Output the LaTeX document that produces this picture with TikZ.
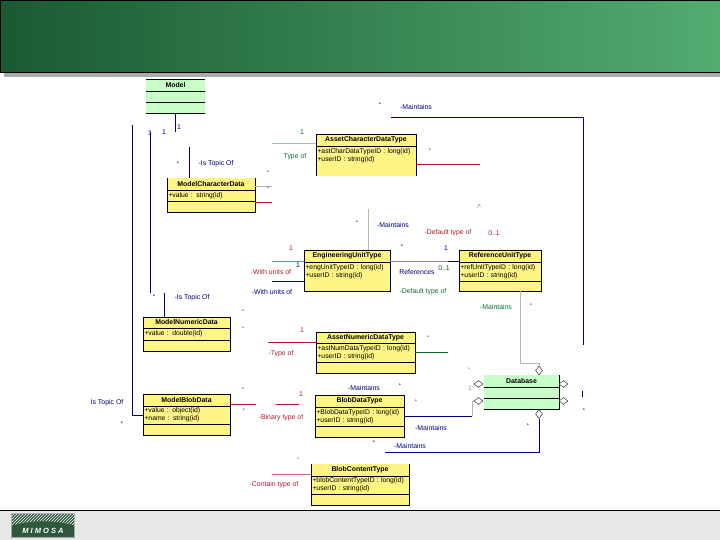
\documentclass[tikz,border=0pt]{standalone}
\usepackage{fontspec}
\setmainfont{Liberation Sans}
\usetikzlibrary{positioning,shapes.geometric,patterns}
\definecolor{umlyellow}{HTML}{FFF585}
\definecolor{umlgreen}{HTML}{C8FFC8}
\definecolor{linknavy}{HTML}{000080}
\definecolor{linkred}{HTML}{B0182C}
\definecolor{linkgreen}{HTML}{0E6B2E}
\definecolor{linkgray}{HTML}{A9BDB0}
\definecolor{hdrdark}{HTML}{1A5A32}
\definecolor{hdrmid}{HTML}{469A60}
\definecolor{hdrlight}{HTML}{52AC70}
\tikzset{
  node distance=0pt,
  % klasser
  ctitle/.style={fill=#1,outer sep=0pt,inner xsep=1.5pt,inner ysep=0pt,align=center,
                 font=\fontsize{6.9}{7.5}\selectfont\bfseries},
  cbody/.style={fill=#1,outer sep=0pt,inner xsep=1.5pt,inner ysep=0pt,align=left,
                font=\fontsize{6.8}{8.2}\selectfont},
  cline/.style={draw=black,line width=0.8pt},
  % kopplingar
  navyl/.style={draw=linknavy,line width=1pt},
  redl/.style={draw=linkred,line width=1pt},
  greenl/.style={draw=linkgreen,line width=1pt},
  grayl/.style={draw=linkgray,line width=1pt},
  pinkl/.style={draw=linkred!65,line width=1pt},
  agg/.style={diamond,draw=black!80,fill=white,line width=0.5pt,inner sep=0pt,aspect=1.3,
              minimum width=9pt,minimum height=7pt},
  aggv/.style={diamond,draw=black!80,fill=white,line width=0.5pt,inner sep=0pt,aspect=0.75,
              minimum width=7pt,minimum height=9pt},
  lb/.style={font=\fontsize{6.9}{7.5}\selectfont,inner sep=0pt},
  mult/.style={font=\fontsize{5.5}{6}\selectfont,inner sep=0pt},
}
\begin{document}
\begin{tikzpicture}[x=1pt,y=-1pt]
  \useasboundingbox (0,0) rectangle (720,540);
  % ram
  \fill[black!33] (4,70) rectangle (720,77);
  \node[draw=black,line width=0.8pt,left color=hdrdark,middle color=hdrmid,right color=hdrlight,
        outer sep=0pt,inner sep=0pt,minimum width=720pt,minimum height=72pt,anchor=north west] (header) at (0,0.5) {};
  \node[fill=black!9,outer sep=0pt,inner sep=0pt,minimum width=720pt,minimum height=30pt,anchor=north west] (footer) at (0,510) {};
  \draw[black,line width=0.8pt] (footer.north west) -- (footer.north east);
  \node[fill=linkgreen!55!black!85,draw=black!35,line width=0.6pt,outer sep=0pt,minimum width=63pt,minimum height=24pt,
        anchor=north west,inner sep=0pt] (logo) at (11.5,513.5) {};
  \fill[pattern=north east lines,pattern color=white!75] (logo.north west) -- (logo.north east) -- (logo.east)
    .. controls (62,522) and (40,518) .. (logo.west) -- cycle;
  \node[text=white,font=\fontsize{7.5}{8}\selectfont\bfseries\itshape,inner sep=0pt] (logotext) at (43,531) {M I M O S A};
  % Model
  \node[ctitle=umlgreen,text width=56pt,minimum height=12pt,anchor=north west] (modelT) at (146,79) {Model};
  \node[cbody=umlgreen,text width=56pt,minimum height=11pt,below=of modelT] (modelA) {};
  \node[cbody=umlgreen,text width=56pt,minimum height=11pt,below=of modelA] (modelO) {};
  % ModelCharacterData
  \node[ctitle=umlyellow,text width=85pt,minimum height=12pt,anchor=north west] (mcdT) at (167,178) {ModelCharacterData};
  \node[cbody=umlyellow,text width=85pt,minimum height=11pt,below=of mcdT] (mcdA) {+value : string(id)};
  \node[cbody=umlyellow,text width=85pt,minimum height=11pt,below=of mcdA] (mcdO) {};
  % AssetCharacterDataType
  \node[ctitle=umlyellow,text width=97pt,minimum height=12pt,anchor=north west] (acdT) at (316,134) {AssetCharacterDataType};
  \node[cbody=umlyellow,text width=97pt,minimum height=19pt,below=of acdT] (acdA) {+astCharDataTypeID : long(id)\\+userID : string(id)};
  \node[cbody=umlyellow,text width=97pt,minimum height=11pt,below=of acdA] (acdO) {};
  % EngineeringUnitType
  \node[ctitle=umlyellow,text width=83pt,minimum height=12pt,anchor=north west] (eutT) at (304,250) {EngineeringUnitType};
  \node[cbody=umlyellow,text width=83pt,minimum height=20pt,below=of eutT] (eutA) {+engUnitTypeID : long(id)\\+userID : string(id)};
  \node[cbody=umlyellow,text width=83pt,minimum height=9pt,below=of eutA] (eutO) {};
  % ReferenceUnitType
  \node[ctitle=umlyellow,text width=79pt,minimum height=12pt,anchor=north west] (rutT) at (459,250) {ReferenceUnitType};
  \node[cbody=umlyellow,text width=79pt,minimum height=19pt,below=of rutT] (rutA) {+refUnitTypeID : long(id)\\+userID : string(id)};
  \node[cbody=umlyellow,text width=79pt,minimum height=10pt,below=of rutA] (rutO) {};
  % ModelNumericData
  \node[ctitle=umlyellow,text width=84pt,minimum height=11pt,anchor=north west] (mndT) at (143,317) {ModelNumericData};
  \node[cbody=umlyellow,text width=84pt,minimum height=12pt,below=of mndT] (mndA) {+value : double(id)};
  \node[cbody=umlyellow,text width=84pt,minimum height=11pt,below=of mndA] (mndO) {};
  % ModelBlobData
  \node[ctitle=umlyellow,text width=84pt,minimum height=12pt,anchor=north west] (mbdT) at (143,394) {ModelBlobData};
  \node[cbody=umlyellow,text width=84pt,minimum height=18pt,below=of mbdT] (mbdA) {+value : object(id)\\+name : string(id)};
  \node[cbody=umlyellow,text width=84pt,minimum height=11pt,below=of mbdA] (mbdO) {};
  % AssetNumericDataType
  \node[ctitle=umlyellow,text width=96pt,minimum height=11pt,anchor=north west] (antT) at (316,332) {AssetNumericDataType};
  \node[cbody=umlyellow,text width=96pt,minimum height=19pt,below=of antT] (antA) {+astNumDataTypeID : long(id)\\+userID : string(id)};
  \node[cbody=umlyellow,text width=96pt,minimum height=11pt,below=of antA] (antO) {};
  % BlobDataType
  \node[ctitle=umlyellow,text width=86pt,minimum height=12pt,anchor=north west] (bdtT) at (315,395) {BlobDataType};
  \node[cbody=umlyellow,text width=86pt,minimum height=19pt,below=of bdtT] (bdtA) {+BlobDataTypeID : long(id)\\+userID : string(id)};
  \node[cbody=umlyellow,text width=86pt,minimum height=11pt,below=of bdtA] (bdtO) {};
  % BlobContentType
  \node[ctitle=umlyellow,text width=95pt,minimum height=12pt,anchor=north west] (bctT) at (311,464) {BlobContentType};
  \node[cbody=umlyellow,text width=95pt,minimum height=18pt,below=of bctT] (bctA) {+blobContentTypeID : long(id)\\+userID : string(id)};
  \node[cbody=umlyellow,text width=95pt,minimum height=11pt,below=of bctA] (bctO) {};
  % Database
  \node[ctitle=umlgreen,text width=72pt,minimum height=12pt,anchor=north west] (dbT) at (484,375) {Database};
  \node[cbody=umlgreen,text width=72pt,minimum height=11pt,below=of dbT] (dbA) {};
  \node[cbody=umlgreen,text width=72pt,minimum height=11pt,below=of dbA] (dbO) {};
  % kanter
  \foreach \cl in {mcd,eut,rut,mnd,mbd,ant,bdt,bct}
    \draw[cline] (\cl T.north west) |- (\cl O.south east) -- (\cl T.north east);
  \foreach \cl in {acd}{
    \draw[cline] (\cl T.north west) -- (\cl O.south west);
    \draw[cline] (\cl T.north east) -- (\cl O.south east);
  }
  \draw[cline] (dbO.south west) -- (dbO.south east) -- (dbT.north east);
  \foreach \cl in {model,acd,eut,rut,mnd,mbd,ant,bdt}
    \draw[cline] (\cl T.north west) -- (\cl T.north east);
  \foreach \cl in {model,mcd,acd,eut,rut,mnd,mbd,ant,bdt,bct,db}
    \draw[cline] (\cl T.south west) -- (\cl T.south east);
  \foreach \cl in {model,mcd,rut,mnd,mbd,ant,bdt,bct,db}
    \draw[cline] (\cl A.south west) -- (\cl A.south east);
  \draw[cline] (modelO.south west) -- (modelO.south east);
  % romber
  \node[aggv] (dbtop) at (539,370.5) {};
  \node[aggv] (dbbot) at (539,414) {};
  \node[agg] (dbl1) at (478.5,384) {};
  \node[agg] (dbl2) at (478.5,401) {};
  \node[agg] (dbr1) at (563.5,384) {};
  \node[agg] (dbr2) at (563.5,401) {};
  % fria ändar
  \coordinate (c1) at (modelO.south |- 0,132);
  \coordinate (c2) at (189,147);
  \coordinate (c3a) at (132,125);
  \coordinate (c3b) at (143,415);
  \coordinate (c4a) at (150,132);
  \coordinate (c4b) at (150,293);
  \coordinate (c5) at (164,293);
  \coordinate (c6a) at (391,118);
  \coordinate (c6b) at (583,345);
  \coordinate (c7a) at (582,391);
  \coordinate (c7b) at (582,397);
  \coordinate (c8) at (272,144);
  \coordinate (c9) at (272,187);
  \coordinate (c10) at (272,203);
  \coordinate (c11) at (480,165);
  \coordinate (c12) at (368,209);
  \coordinate (c13) at (272,261);
  \coordinate (c14) at (272,281);
  \coordinate (c15) at (448,261);
  \coordinate (c16) at (520,363);
  \coordinate (c17) at (268,342);
  \coordinate (c18) at (448,352);
  \coordinate (c19) at (256,404);
  \coordinate (c20a) at (276,404.5);
  \coordinate (c20b) at (299,404.5);
  \coordinate (c21) at (472,416);
  \coordinate (c21b) at (472,401);
  \coordinate (c22) at (385,452);
  \coordinate (c23) at (272,474);
  % kopplingar
  \draw[navyl] (modelO.south) -- (c1);
  \draw[navyl] (c2) -- (c2 |- mcdT.north);
  \draw[navyl] (c3a) |- (c3b);
  \draw[navyl] (c4a) -- (c4b);
  \draw[navyl] (c5) -- (c5 |- mndT.north);
  \draw[navyl] (c6a) -| (c6b);
  \draw[navyl] (c7a) -- (c7b);
  \draw[grayl] (c8) -- (c8 -| acdT.west);
  \draw[grayl] (c9) -- (c9 -| mcdT.east);
  \draw[redl] (c10) -- (c10 -| mcdT.east);
  \draw[redl] (c11) -- (c11 -| acdT.east);
  \draw[grayl] (c12) -- (c12 |- eutT.north);
  \draw[pinkl] (c13) -- (c13 -| eutT.west);
  \draw[navyl] (c14) -- (c14 -| eutT.west);
  \draw[draw=linknavy!45,line width=1pt] (c15 -| eutT.east) -- (c15);
  \draw[navyl] (c15) -- (c15 -| rutT.west);
  \draw[grayl] (c16 |- rutO.south) -- (c16) -| (dbtop.north);
  \draw[redl] (c17) -- (c17 -| antT.west);
  \draw[greenl] (c18) -- (c18 -| antT.east);
  \draw[redl] (c19) -- (c19 -| mbdT.east);
  \draw[redl] (c20a) -- (c20b);
  \draw[navyl] (c21) -- (c21 -| bdtT.east);
  \draw[grayl] (c21) -- (c21b) -- (dbl2.west);
  \draw[navyl] (dbbot.south) |- (c22);
  \draw[pinkl] (c23) -- (c23 -| bctT.west);
  % etiketter
  \node[lb,text=linknavy] (l1) at (216,164) {-Is Topic Of};
  \node[lb,text=linknavy] (l2) at (192,298) {-Is Topic Of};
  \node[lb,text=linknavy] (l3) at (107,403) {Is Topic Of};
  \node[lb,text=linkgreen] (l4) at (295,157) {Type of};
  \node[lb,text=linknavy] (l5) at (416,107) {-Maintains};
  \node[lb,text=linknavy] (l6) at (393,225) {-Maintains};
  \node[lb,text=linkred] (l7) at (448,233) {-Default type of};
  \node[lb,text=linkred] (l8) at (494,233) {0..1};
  \node[lb,text=linkred] (l9) at (271,272) {-With units of};
  \node[lb,text=linknavy] (l10) at (272,292) {-With units of};
  \node[lb,text=linknavy] (l11) at (417,272) {References};
  \node[lb,text=linkgreen!80!black] (l12) at (444,268) {0..1};
  \node[lb,text=linkgreen] (l13) at (423,292) {-Default type of};
  \node[lb,text=linkgreen] (l14) at (496,307) {-Maintains};
  \node[lb,text=linkred] (l15) at (281,354) {-Type of};
  \node[lb,text=linkred] (l16) at (281,418) {-Binary type of};
  \node[lb,text=linknavy] (l17) at (364,388) {-Maintains};
  \node[lb,text=linknavy] (l18) at (431,428) {-Maintains};
  \node[lb,text=linknavy] (l19) at (410,446) {-Maintains};
  \node[lb,text=linkred] (l20) at (274,485) {-Contain type of};
  % multipliciteter
  \node[lb,text=linknavy] (n1) at (179,127) {1};
  \node[lb,text=linknavy] (n2) at (150,133) {1};
  \node[lb,text=linknavy] (n3) at (164,132) {1};
  \node[lb,text=linkgreen] (n4) at (302,132) {1};
  \node[lb,text=linkred] (n5) at (291,248) {1};
  \node[lb,text=linknavy] (n6) at (298,265) {1};
  \node[lb,text=linknavy] (n7) at (446,248) {1};
  \node[lb,text=linkred] (n8) at (302,330) {1};
  \node[lb,text=linkred] (n9) at (301,394) {1};
  \node[lb,text=black!40] (n10) at (470,388) {1};
  \node[mult,text=linknavy] (m1) at (178,164) {*};
  \node[mult,text=linkgreen] (m2) at (268,173) {*};
  \node[mult,text=linkred] (m3) at (268,189) {*};
  \node[mult,text=linkred] (m4) at (430,151) {*};
  \node[mult,text=linknavy] (m5) at (380,105) {*};
  \node[mult,text=black!60] (m6) at (480,207) {/*.};
  \node[mult,text=linknavy] (m7) at (357,223) {*};
  \node[mult,text=linknavy] (m8) at (402,247) {*};
  \node[mult,text=linkgreen] (m9) at (531,306) {*};
  \node[mult,text=linknavy] (m10) at (154,297) {*};
  \node[mult,text=black!70] (m11) at (243,312) {*};
  \node[mult,text=black!70] (m12) at (243,329) {*};
  \node[mult,text=black!70] (m13) at (243,390) {*};
  \node[mult,text=linkred] (m14) at (244,411) {*};
  \node[mult,text=linknavy] (m15) at (122,424) {*};
  \node[mult,text=linkgreen] (m16) at (428,338) {*};
  \node[mult,text=linkred] (m17) at (416,402) {*};
  \node[mult,text=linknavy] (m18) at (400,386) {*};
  \node[mult,text=linknavy] (m19) at (374,443) {*};
  \node[mult,text=black!50] (m20) at (469,370) {*};
  \node[mult,text=linknavy] (m21) at (528,426) {*};
  \node[mult,text=linkred!70] (m22) at (298,460) {*};
  \node[mult,text=linknavy] (m23) at (584,411) {*};
\end{tikzpicture}
\end{document}
